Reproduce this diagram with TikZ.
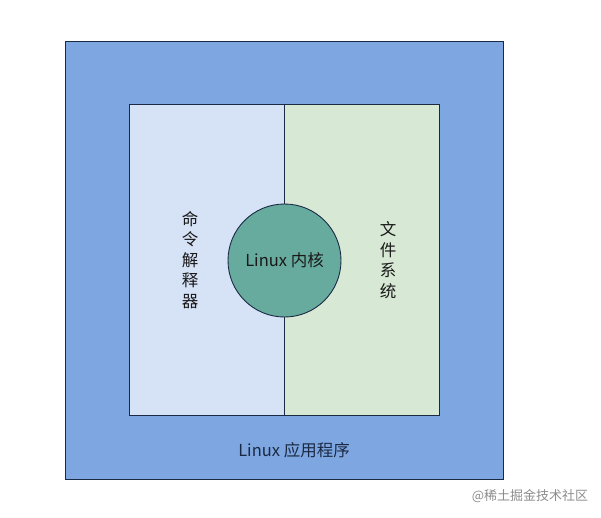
\documentclass[tikz,border=0pt]{standalone}
\usepackage{fontspec}
\setmainfont{Noto Sans CJK SC}
\usepackage{tikz}
\usetikzlibrary{positioning}
\definecolor{appBlue}{HTML}{7EA6E0}
\definecolor{shellBlue}{HTML}{D6E2F5}
\definecolor{fsGreen}{HTML}{D7E8D4}
\definecolor{kernelTeal}{HTML}{67AB9F}
\definecolor{lineDark}{HTML}{1B2A44}
\tikzset{
    every node/.style={font=\fontsize{16.5}{20.5}\selectfont, text=black!90}, % common text size
    box/.style={draw=lineDark, line width=0.9pt, inner sep=0pt}, % the rectangles
}
\begin{document}
\begin{tikzpicture}[
        x=1pt, y=-1pt,
        layerBox/.style={box, minimum width=155pt, minimum height=311pt},
        vlabel/.style={align=center},
    ]
    \useasboundingbox (0,0) rectangle (601,517);
    \node[box, fill=appBlue, minimum width=438pt, minimum height=438pt] (app) at (284,260) {};
    \node[layerBox, fill=shellBlue] (shell) at (206.5,259.5) {};
    \node[layerBox, fill=fsGreen, right=0pt of shell] (fs) {};
    \node[box, circle, fill=kernelTeal, minimum size=113pt] (kernel) at (284.5,260.5) {Linux 内核};
    \node[vlabel] (shellText) at (190,260) {命\\令\\解\\释\\器};
    \node[vlabel] (fsText) at (388,260) {文\\件\\系\\统};
    \node[text=lineDark] (appText) at (294,450) {Linux 应用程序};
    \node[text=black!45, font=\fontsize{13}{15}\selectfont] (mark) at (530,496) {@稀土掘金技术社区};
\end{tikzpicture}
\end{document}
